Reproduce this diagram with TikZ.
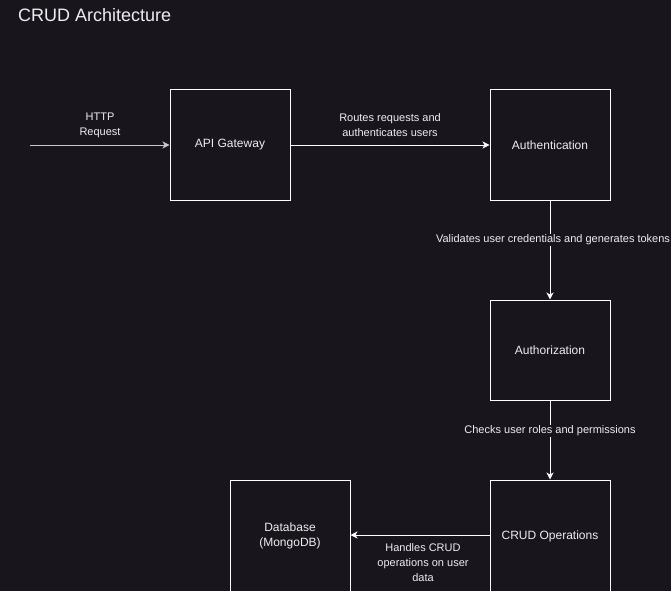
\documentclass[tikz,border=0pt]{standalone}
\usepackage{fontspec}
\setmainfont{Liberation Sans}
\usetikzlibrary{arrows.meta}
\definecolor{bg}{RGB}{24,21,29}
\definecolor{txt}{RGB}{238,238,238}
\definecolor{fadeline}{RGB}{200,200,200}
\tikzset{
  box/.style={draw=white, line width=1pt, minimum width=120pt, minimum height=110pt, inner sep=0pt, text=txt, align=center, font=\fontsize{12}{15}\selectfont},
  conn/.style={draw=white, line width=1pt, -{Stealth[length=7pt,width=7pt,inset=2pt]}},
  elabel/.style={text=txt, align=center, inner sep=1pt, font=\fontsize{11}{15}\selectfont},
  title/.style={text=txt, anchor=west, inner sep=0pt, font=\fontsize{18}{21}\selectfont}
}
\begin{document}
\begin{tikzpicture}[x=1pt,y=-1pt]
\useasboundingbox[fill=bg] (0,0) rectangle (671,591);
\node[title] (ttl) at (18,15) {CRUD Architecture};
\node[box] (api) at (230,145) {API Gateway};
\node[box] (authn) at (550,145) {Authentication};
\node[box, minimum height=100pt] (authz) at (550,350) {Authorization};
\node[box, minimum height=112pt] (crud) at (550,536) {CRUD Operations};
\node[box, minimum height=112pt] (db) at (290,536) {Database\\(MongoDB)};
\coordinate (src) at (30,145);
\draw[conn, draw=fadeline] (src) -- (api.west);
\node[elabel] (l0) at (100,125) {HTTP\\Request};
\draw[conn] (api.east) -- (authn.west);
\node[elabel] (l1) at (390,125) {Routes requests and\\authenticates users};
\draw[conn] (authn.south) -- (authz.north);
\node[elabel, fill=bg] (l2) at (553,240) {Validates user credentials and generates tokens};
\draw[conn] (authz.south) -- (crud.north);
\node[elabel, fill=bg] (l3) at (550,431) {Checks user roles and permissions};
\draw[conn] (crud.west |- 0,535) -- (db.east |- 0,535);
\node[elabel] (l4) at (423,563) {Handles CRUD\\operations on user\\data};
\end{tikzpicture}
\end{document}
